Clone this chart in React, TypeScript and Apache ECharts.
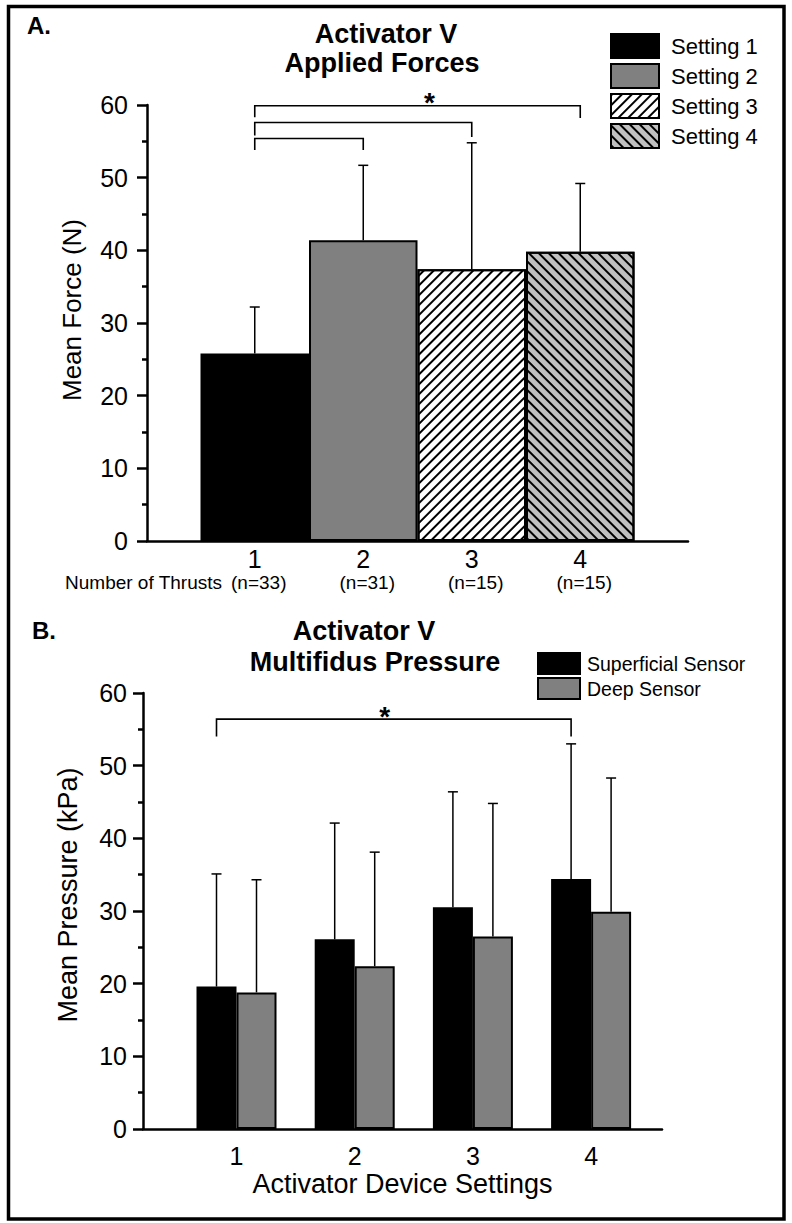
import React, { useEffect, useRef } from "react";
import * as echarts from "echarts";

// ---------- data ----------
const settings = ["1", "2", "3", "4"];
const thrustCounts = ["(n=33)", "(n=31)", "(n=15)", "(n=15)"];
const forceNames = ["Setting 1", "Setting 2", "Setting 3", "Setting 4"];
const forceMean = [25.8, 41.4, 37.4, 39.8];
const forceSD = [6.4, 10.3, 17.4, 9.4];

const sensorNames = ["Superficial Sensor", "Deep Sensor"];
const superficialMean = [19.6, 26.1, 30.5, 34.4];
const superficialSD = [15.5, 16.0, 15.9, 18.6];
const deepMean = [18.8, 22.4, 26.5, 29.9];
const deepSD = [15.5, 15.7, 18.3, 18.4];

// significance brackets: [fromIndex, toIndex, topValue, leftLegEnd, rightLegEnd, hasStar]
const forceBrackets = [
  [0, 1, 55.4, 53.8, 53.8, 0],
  [0, 2, 57.6, 55.8, 55.6, 0],
  [0, 3, 59.9, 58.3, 58.2, 1],
];
const pressureBrackets = [[0, 3, 56.4, 54.0, 54.0, 1]];

// ---------- styles ----------
const FONT = "'Liberation Sans', Arial, Helvetica, sans-serif";
const BAR_W_B = 40;

const forceFills = ["#000000", "#808080", "#ffffff", "#c0c0c0"];
const forceDecals: any[] = [
  undefined,
  undefined,
  {
    symbol: "rect",
    symbolSize: 1,
    dashArrayX: [1, 0],
    dashArrayY: [1.3, 4.4],
    rotation: -Math.PI / 4,
    color: "#000",
  },
  {
    symbol: "rect",
    symbolSize: 1,
    dashArrayX: [1, 0],
    dashArrayY: [1.3, 4.4],
    rotation: Math.PI / 4,
    color: "#000",
  },
];

function errorBarSeries(
  xAxisIndex: number,
  yAxisIndex: number,
  means: number[],
  sds: number[],
  dx: number
) {
  return {
    type: "custom",
    xAxisIndex,
    yAxisIndex,
    z: 5,
    silent: true,
    data: means.map((m, i) => [i, m, m + sds[i]]),
    renderItem: (_p: any, api: any) => {
      const base = api.coord([api.value(0), api.value(1)]);
      const top = api.coord([api.value(0), api.value(2)]);
      const x = base[0] + dx;
      const cap = 5;
      const st = { stroke: "#000", lineWidth: 1.5, fill: "none" };
      return {
        type: "group",
        children: [
          { type: "line", shape: { x1: x, y1: base[1], x2: x, y2: top[1] }, style: st },
          { type: "line", shape: { x1: x - cap, y1: top[1], x2: x + cap, y2: top[1] }, style: st },
        ],
      };
    },
  };
}

function bracketSeries(
  xAxisIndex: number,
  yAxisIndex: number,
  data: number[][],
  dx: number,
  starDx: number
) {
  return {
    type: "custom",
    xAxisIndex,
    yAxisIndex,
    z: 6,
    silent: true,
    data,
    renderItem: (_p: any, api: any) => {
      const a = api.coord([api.value(0), api.value(2)]);
      const b = api.coord([api.value(1), api.value(2)]);
      const l = api.coord([api.value(0), api.value(3)]);
      const r = api.coord([api.value(1), api.value(4)]);
      const children: any[] = [
        {
          type: "polyline",
          shape: {
            points: [
              [l[0] + dx, l[1]],
              [a[0] + dx, a[1]],
              [b[0] + dx, b[1]],
              [r[0] + dx, r[1]],
            ],
          },
          style: { stroke: "#000", lineWidth: 1.6, fill: "none" },
        },
      ];
      if (api.value(5)) {
        children.push({
          type: "text",
          x: (a[0] + b[0]) / 2 + dx + starDx,
          y: a[1] - 3,
          style: {
            text: "*",
            fontSize: 28,
            fontWeight: "bold",
            fontFamily: FONT,
            fill: "#000",
            align: "center",
            textAlign: "center",
            verticalAlign: "middle",
            textVerticalAlign: "middle",
          },
        });
      }
      return { type: "group", children };
    },
  };
}

function valueYAxis(gridIndex: number, offset: number, margin: number) {
  return {
    gridIndex,
    type: "value",
    min: 0,
    max: 60,
    interval: 10,
    offset,
    axisLine: { show: true, lineStyle: { color: "#000", width: 2.5 } },
    axisTick: { show: true, length: 10, lineStyle: { color: "#000", width: 2.5 } },
    minorTick: { show: true, splitNumber: 2, length: 5, lineStyle: { color: "#000", width: 2.5 } },
    splitLine: { show: false },
    minorSplitLine: { show: false },
    axisLabel: { fontSize: 25, color: "#000", margin, fontFamily: FONT },
  };
}

function lineOnlyXAxis(gridIndex: number, extra: any = {}) {
  return {
    gridIndex,
    type: "value",
    min: 0,
    max: 1,
    axisLine: { show: true, onZero: false, lineStyle: { color: "#000", width: 2.5 } },
    axisTick: { show: false },
    axisLabel: { show: false },
    splitLine: { show: false },
    ...extra,
  };
}

function textEl(text: string, x: number, y: number, size: number, opts: any = {}) {
  return {
    type: "text",
    x,
    y,
    rotation: opts.rotation || 0,
    silent: true,
    style: {
      text,
      fontSize: size,
      fontFamily: FONT,
      fontWeight: opts.bold ? "bold" : "normal",
      fill: "#000",
      align: opts.align || "center",
      textAlign: opts.align || "center",
      verticalAlign: "middle",
      textVerticalAlign: "middle",
    },
  };
}

export default function App() {
  const ref = useRef<HTMLDivElement>(null);

  useEffect(() => {
    document.body.style.margin = "0";
    if (!ref.current) return;
    const chart = echarts.init(ref.current, undefined, { renderer: "svg" });

    const option: any = {
      animation: false,
      backgroundColor: "#ffffff",
      textStyle: { fontFamily: FONT, color: "#000" },
      grid: [
        { left: 200.5, top: 105, width: 434, height: 436 },
        { left: 147, top: 105, width: 541, height: 436 },
        { left: 177.4, top: 693, width: 472.8, height: 436 },
        { left: 143, top: 693, width: 519, height: 436 },
      ],
      xAxis: [
        {
          gridIndex: 0,
          type: "category",
          data: settings,
          axisLine: { show: false },
          axisTick: { show: false },
          axisLabel: {
            interval: 0,
            hideOverlap: false,
            fontSize: 25,
            lineHeight: 25,
            color: "#000",
            margin: 5,
            fontFamily: FONT,
            formatter: (v: string, i: number) => `${v}\n{n|${thrustCounts[i]}}`,
            rich: {
              n: { fontSize: 19, lineHeight: 22, color: "#000", fontFamily: FONT, padding: [0, 0, 0, 8] },
            },
          },
        },
        lineOnlyXAxis(1),
        {
          gridIndex: 2,
          type: "category",
          data: settings,
          axisLine: { show: false },
          axisTick: { show: false },
          axisLabel: { interval: 0, fontSize: 25, color: "#000", margin: 14, fontFamily: FONT },
        },
        lineOnlyXAxis(3, {
          name: "Activator Device Settings",
          nameLocation: "middle",
          nameGap: 41,
          nameTextStyle: { fontSize: 27, color: "#000", fontFamily: FONT },
        }),
      ],
      yAxis: [
        valueYAxis(0, 53.5, 19),
        { gridIndex: 1, type: "value", min: 0, max: 60, show: false },
        valueYAxis(2, 34.4, 16),
        { gridIndex: 3, type: "value", min: 0, max: 60, show: false },
      ],
      legend: [
        {
          data: forceNames,
          orient: "vertical",
          left: 610,
          top: 33,
          padding: 0,
          itemWidth: 48,
          itemHeight: 24,
          itemGap: 4,
          icon: "rect",
          selectedMode: false,
          textStyle: { fontSize: 22, color: "#000", fontFamily: FONT, padding: [0, 0, 0, 7] },
        },
        {
          data: sensorNames,
          orient: "vertical",
          left: 537,
          top: 652,
          padding: 0,
          itemWidth: 42,
          itemHeight: 21,
          itemGap: 2,
          icon: "rect",
          selectedMode: false,
          textStyle: { fontSize: 19.5, color: "#000", fontFamily: FONT, padding: [0, 0, 0, 2] },
        },
      ],
      series: [
        ...forceNames.map((name, k) => ({
          name,
          type: "bar",
          xAxisIndex: 0,
          yAxisIndex: 0,
          barWidth: "100%",
          barGap: "-100%",
          data: forceMean.map((v, i) => (i === k ? v : "-")),
          itemStyle: {
            color: forceFills[k],
            borderColor: "#000",
            borderWidth: 2,
            ...(forceDecals[k] ? { decal: forceDecals[k] } : {}),
          },
        })),
        errorBarSeries(0, 0, forceMean, forceSD, 0),
        bracketSeries(0, 0, forceBrackets, 0, 12),
        {
          name: sensorNames[0],
          type: "bar",
          xAxisIndex: 2,
          yAxisIndex: 2,
          barWidth: BAR_W_B,
          barGap: "0%",
          data: superficialMean,
          itemStyle: { color: "#000000", borderColor: "#000", borderWidth: 2 },
        },
        {
          name: sensorNames[1],
          type: "bar",
          xAxisIndex: 2,
          yAxisIndex: 2,
          barWidth: BAR_W_B,
          barGap: "0%",
          data: deepMean,
          itemStyle: { color: "#808080", borderColor: "#000", borderWidth: 2 },
        },
        errorBarSeries(2, 2, superficialMean, superficialSD, -BAR_W_B / 2),
        errorBarSeries(2, 2, deepMean, deepSD, BAR_W_B / 2),
        bracketSeries(2, 2, pressureBrackets, -BAR_W_B / 2, -9),
      ],
      graphic: [
        {
          type: "rect",
          silent: true,
          shape: { x: 8.5, y: 6.5, width: 775.5, height: 1212.5 },
          style: { fill: "none", stroke: "#000", lineWidth: 3.5 },
          z: 100,
        },
        textEl("A.", 27, 25, 24, { bold: true, align: "left" }),
        textEl("Activator V", 386, 34, 27, { bold: true }),
        textEl("Applied Forces", 382, 63, 27, { bold: true }),
        textEl("Mean Force (N)", 72, 310, 26, { rotation: Math.PI / 2 }),
        textEl("Number of Thrusts", 222, 582, 19, { align: "right" }),
        textEl("B.", 32, 630, 24, { bold: true, align: "left" }),
        textEl("Activator V", 364, 631, 27, { bold: true }),
        textEl("Multifidus Pressure", 375, 662, 27, { bold: true }),
        textEl("Mean Pressure (kPa)", 68, 895, 27, { rotation: Math.PI / 2 }),
      ],
    };

    chart.setOption(option);
    return () => chart.dispose();
  }, []);

  return <div ref={ref} style={{ width: 792, height: 1223 }} />;
}
